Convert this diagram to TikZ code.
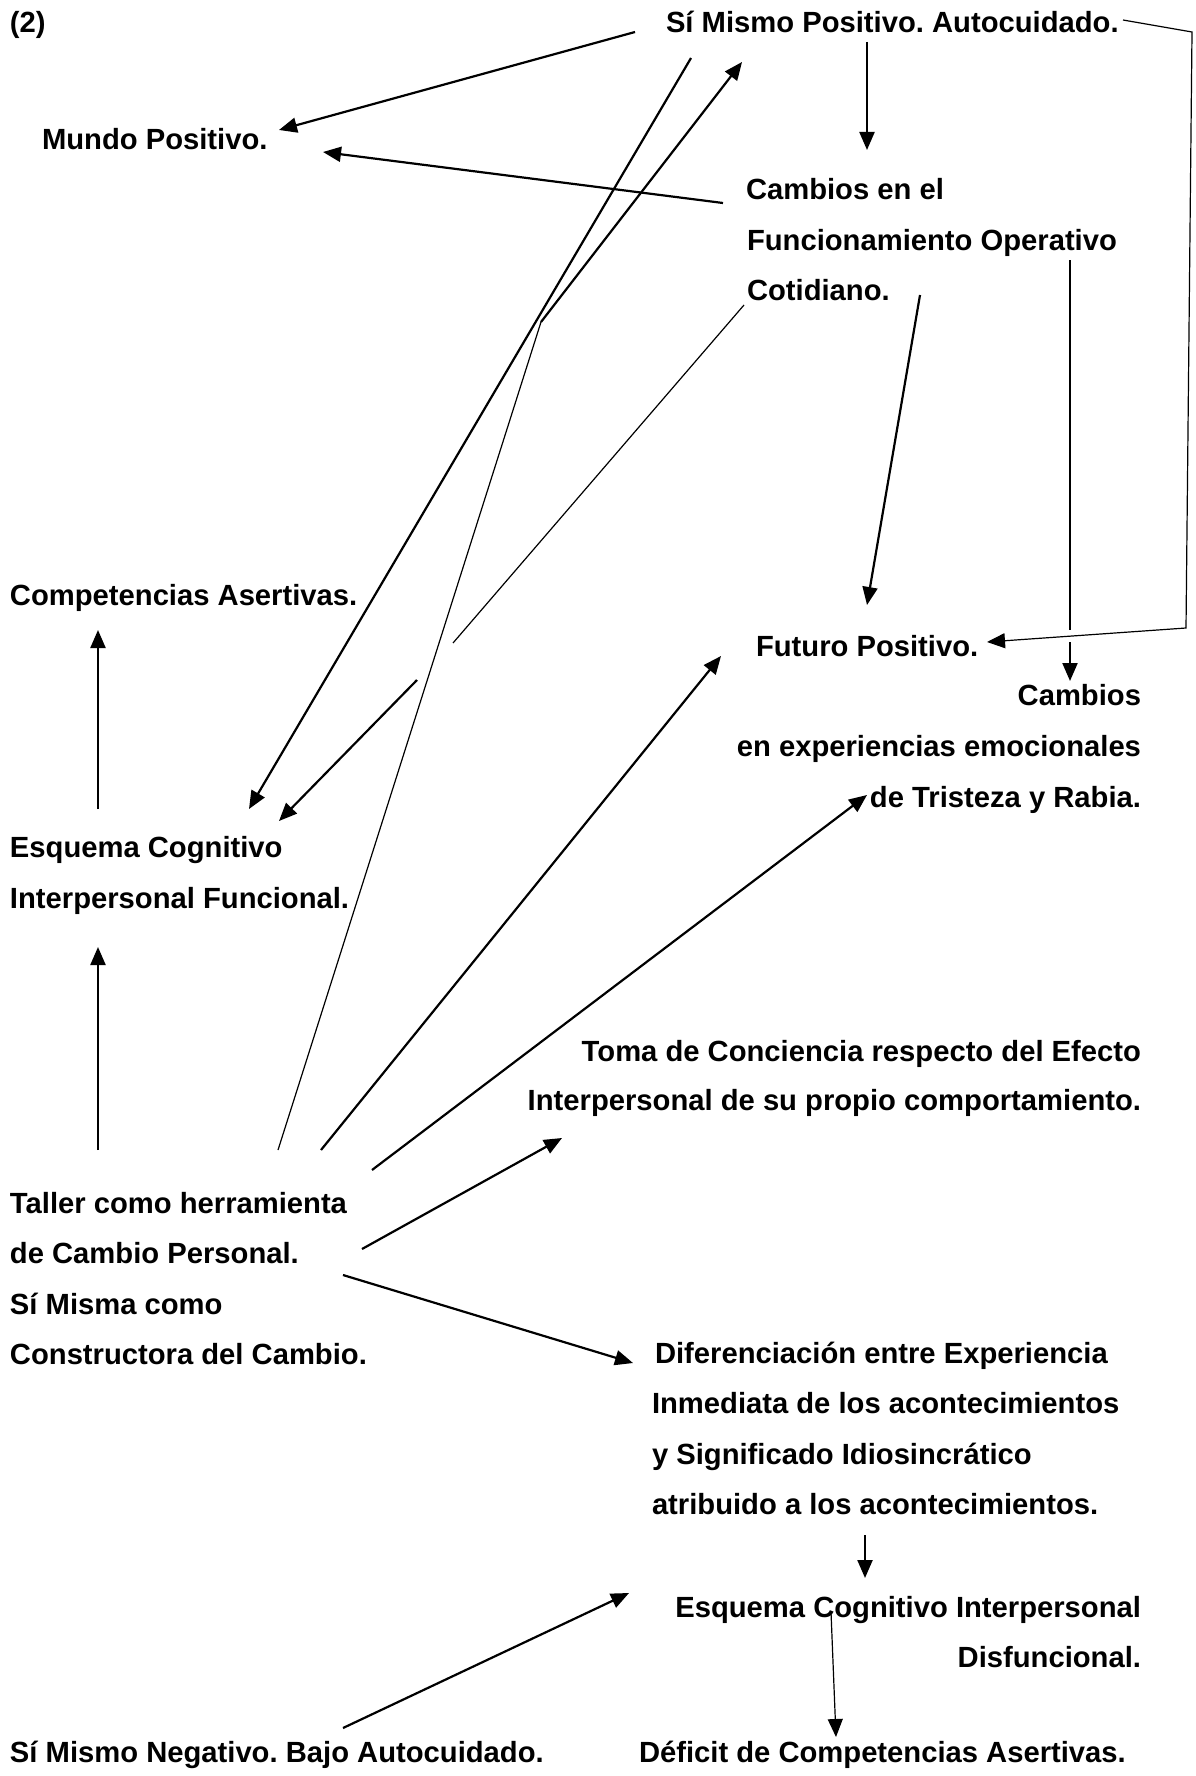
\documentclass[tikz,border=0pt]{standalone}
\usepackage{fontspec}
\setmainfont{Liberation Sans}
\usetikzlibrary{arrows.meta}
\frenchspacing
\begin{document}
\begin{tikzpicture}[x=0.5pt,y=-0.5pt,
  lbl/.style={inner sep=0pt, outer sep=0pt, font=\fontsize{14.6pt}{17pt}\selectfont\bfseries\frenchspacing},
  lw/.style={lbl,anchor=base west},
  le/.style={lbl,anchor=base east},
  thk/.style={line width=1.1pt},
  thn/.style={line width=0.6pt},
  arr/.style={-{Triangle[length=9pt,width=7.5pt]}}
]
\useasboundingbox (0,0) rectangle (1195,1776);

% ---------- text nodes ----------
\node[lw] (n2)    at (10,33)    {(2)};
\node[lw] (smp)   at (666,33)   {Sí Mismo Positivo. Autocuidado.};
\node[lw] (mundo) at (42,150)   {Mundo Positivo.};
\node[lw] (cam1)  at (746,200)  {Cambios en el};
\node[lw] (cam2)  at (747,250)  {Funcionamiento Operativo};
\node[lw] (cam3)  at (747,300)  {Cotidiano.};
\node[lw] (comp)  at (10,605)   {Competencias Asertivas.};
\node[lw] (fut)   at (756,656)  {Futuro Positivo.};
\node[le] (emo1)  at (1141,705) {Cambios};
\node[le] (emo2)  at (1141,756) {en experiencias emocionales};
\node[le] (emo3)  at (1141,807) {de Tristeza y Rabia.};
\node[lw] (ecf1)  at (10,857)   {Esquema Cognitivo};
\node[lw] (ecf2)  at (10,908)   {Interpersonal Funcional.};
\node[le] (toma1) at (1141,1061) {Toma de Conciencia respecto del Efecto};
\node[le] (toma2) at (1141,1110) {Interpersonal de su propio comportamiento.};
\node[lw] (tal1)  at (10,1213)  {Taller como herramienta};
\node[lw] (tal2)  at (10,1263)  {de Cambio Personal.};
\node[lw] (tal3)  at (10,1314)  {Sí Misma como};
\node[lw] (tal4)  at (10,1364)  {Constructora del Cambio.};
\node[lw] (dif1)  at (655,1363) {Diferenciación entre Experiencia};
\node[lw] (dif2)  at (652,1413) {Inmediata de los acontecimientos};
\node[lw] (dif3)  at (652,1464) {y Significado Idiosincrático};
\node[lw] (dif4)  at (652,1514) {atribuido a los acontecimientos.};
\node[le] (ecd1)  at (1141,1617) {Esquema Cognitivo Interpersonal};
\node[le] (ecd2)  at (1141,1667) {Disfuncional.};
\node[lw] (smn)   at (10,1762)  {Sí Mismo Negativo. Bajo Autocuidado.};
\node[lw] (def)   at (639,1762) {Déficit de Competencias Asertivas.};

% ---------- connector end points ----------
\coordinate (sA) at (635,32);   \coordinate (tA) at (279,130);
\coordinate (sB) at (723,203);  \coordinate (tB) at (323,152);
\coordinate (sC) at (867,42);   \coordinate (tC) at (867,150);
\coordinate (sD) at (691,58);   \coordinate (tD) at (249,809);
\coordinate (sE) at (278,1150); \coordinate (kE) at (541,322); \coordinate (tE) at (742,62);
\coordinate (sF) at (744,305);  \coordinate (gF1) at (453,643);
\coordinate (gF2) at (417,680); \coordinate (tF) at (279,821);
\coordinate (sG) at (920,295);  \coordinate (tG) at (867,605);
\coordinate (sH) at (1070,260); \coordinate (gH1) at (1070,630);
\coordinate (gH2) at (1070,642); \coordinate (tH) at (1070,681);
\coordinate (sI) at (1123,20);  \coordinate (bI1) at (1192,32);
\coordinate (bI2) at (1186,628); \coordinate (tI) at (987,642);
\coordinate (sJ) at (321,1150); \coordinate (tJ) at (721,656);
\coordinate (sK) at (372,1170); \coordinate (tK) at (867,795);
\coordinate (sL) at (362,1249); \coordinate (tL) at (562,1138);
\coordinate (sM) at (343,1275); \coordinate (tM) at (633,1363);
\coordinate (sN) at (98,809);   \coordinate (tN) at (98,630);
\coordinate (sO) at (98,1150);  \coordinate (tO) at (98,947);
\coordinate (sP) at (865,1535); \coordinate (tP) at (865,1578);
\coordinate (sQ) at (343,1728); \coordinate (tQ) at (629,1593);
\coordinate (sR) at (831,1612); \coordinate (tR) at (836,1737);

% ---------- connectors ----------
\draw[thk,arr] (sA) -- (tA);            % Si mismo -> Mundo
\draw[thk,arr] (sB) -- (tB);            % Cambios -> Mundo
\draw[thk,arr] (sC) -- (tC);            % Si mismo -> Cambios
\draw[thk,arr] (sD) -- (tD);            % Si mismo -> Esquema funcional
\draw[thn] (sE) -- (kE);                % Taller -> ...
\draw[thk,arr] (kE) -- (tE);            % ... -> Si mismo
\draw[thn] (sF) -- (gF1);               % Cotidiano -> ...
\draw[thk,arr] (gF2) -- (tF);           % ... -> Esquema funcional
\draw[thk,arr] (sG) -- (tG);            % Cotidiano -> Futuro
\draw[thn] (sH) -- (gH1);               % Operativo -> ...
\draw[thk,arr] (gH2) -- (tH);           % ... -> Cambios emocionales
\draw[thn,arr] (sI) -- (bI1) -- (bI2) -- (tI); % Si mismo -> Futuro
\draw[thk,arr] (sJ) -- (tJ);            % Taller -> Futuro
\draw[thk,arr] (sK) -- (tK);            % Taller -> Tristeza y Rabia
\draw[thk,arr] (sL) -- (tL);            % Taller -> Toma de conciencia
\draw[thk,arr] (sM) -- (tM);            % Taller -> Diferenciacion
\draw[thk,arr] (sN) -- (tN);            % Esquema -> Competencias
\draw[thk,arr] (sO) -- (tO);            % Taller -> Esquema
\draw[thk,arr] (sP) -- (tP);            % Diferenciacion -> Esquema disf.
\draw[thk,arr] (sQ) -- (tQ);            % Si mismo negativo -> Esquema disf.
\draw[thn,arr] (sR) -- (tR);            % Esquema disf. -> Deficit
\end{tikzpicture}
\end{document}
